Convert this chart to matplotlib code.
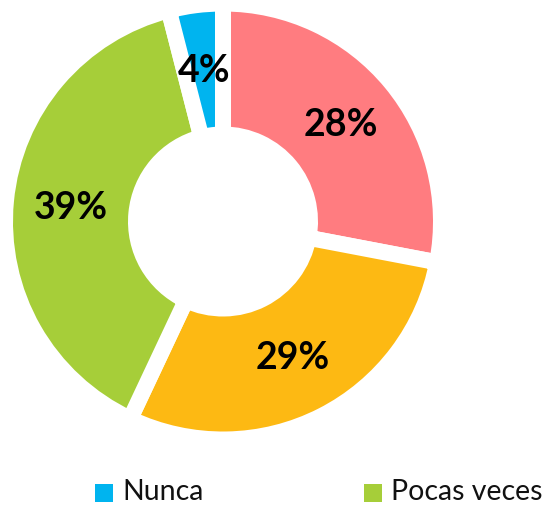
import matplotlib
matplotlib.use("Agg")
import matplotlib.pyplot as plt
from matplotlib.patches import Rectangle

labels = ["Siempre", "Muchas veces", "Pocas veces", "Nunca"]
values = [28, 29, 39, 4]
colors = ["#FF7C80", "#FDB913", "#A6CE39", "#00B4EF"]
legend_labels = ["Nunca", "Pocas veces"]
legend_colors = ["#00B4EF", "#A6CE39"]

W, H = 545, 506
dpi = 100
fig = plt.figure(figsize=(W / dpi, H / dpi), dpi=dpi)
ax = fig.add_axes([0, 0, 1, 1])

gap_px = 16
lw = gap_px * 72 / dpi
outer = 210 + gap_px / 2
inner = 95 - gap_px / 2
cx, cy = 223, H - 222.5

wedges, texts, autotexts = ax.pie(
    values, colors=colors, startangle=90, counterclock=False,
    center=(cx, cy), radius=outer, autopct="%.0f%%", pctdistance=0.70,
    wedgeprops=dict(width=outer - inner, edgecolor="white", linewidth=lw,
                    joinstyle="miter"),
    textprops=dict(fontsize=27, fontweight="bold", color="black",
                   family=["Lato", "DejaVu Sans"]),
    frame=True,
)
ax.set_xlim(0, W)
ax.set_ylim(0, H)
ax.set_aspect("equal")
ax.axis("off")

lx = [95, 364]
for x, lab, col in zip(lx, legend_labels, legend_colors):
    ax.add_patch(Rectangle((x, 3), 18, 18, facecolor=col, edgecolor="none",
                           clip_on=False))
    ax.text(x + 27, 6, lab, fontsize=20.5, family=["Lato", "DejaVu Sans"],
            ha="left", va="baseline", color="#111111")

fig.savefig("out.png", dpi=dpi)
